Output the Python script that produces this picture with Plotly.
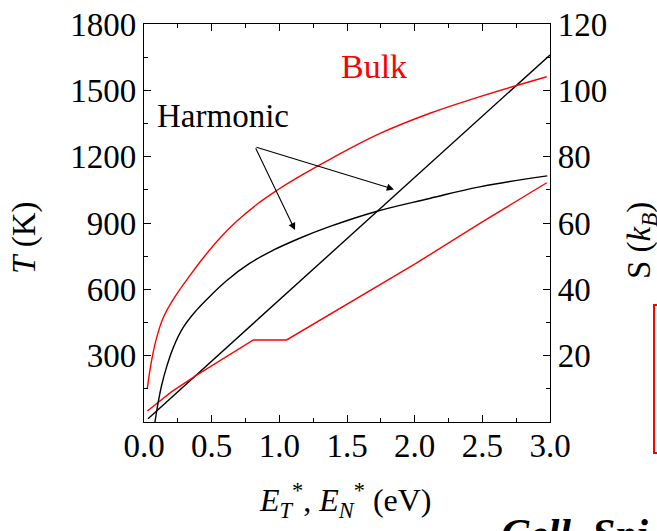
import plotly.graph_objects as go

# ---- data ----
E_harm_T = [0.03, 0.5, 1.0, 1.5, 2.0, 2.5, 3.0]
T_harm = [15, 275, 552, 828, 1105, 1382, 1660]

E_bulk_T = [0.025, 0.2, 0.389, 0.808, 1.054, 1.15, 1.5, 2.0, 2.5, 2.976]
T_bulk = [50, 135, 212, 371, 371, 406, 532, 714, 905, 1082]

E_harm_S = [0.081, 0.10, 0.13, 0.17, 0.22, 0.29, 0.39, 0.46, 0.61, 0.78,
            0.955, 1.15, 1.37, 1.71, 2.11, 2.48, 2.98]
S_harm = [0, 4.8, 11.0, 17.0, 22.8, 28.5, 33.8, 36.8, 42.6, 47.8,
          51.8, 55.4, 58.9, 63.4, 67.4, 70.9, 74.2]

E_bulk_S = [0.025, 0.057, 0.094, 0.143, 0.22, 0.34, 0.44, 0.56, 0.685, 0.83,
            0.98, 1.13, 1.374, 1.744, 2.113, 2.483, 2.976]
S_bulk = [10.2, 18.7, 25.5, 31.5, 37.2, 44.2, 49.6, 55.4, 60.5, 65.5,
          69.8, 73.6, 79.2, 87.0, 93.1, 98.1, 104.1]

x_ticks = [0.0, 0.5, 1.0, 1.5, 2.0, 2.5, 3.0]
x_ticklabels = ["0.0", "0.5", "1.0", "1.5", "2.0", "2.5", "3.0"]
yT_ticks = [300, 600, 900, 1200, 1500, 1800]
yS_ticks = [20, 40, 60, 80, 100, 120]

# arrows: start point and two tips (E, T)
arrow_start = (0.820, 1245)
arrow_tips = [(1.116, 868), (1.847, 1052)]

FONT = "Liberation Serif, Times New Roman, serif"
BLACK = "#000000"
RED = "#ff0000"

fig = go.Figure()
fig.add_trace(go.Scatter(x=E_harm_T, y=T_harm, mode="lines",
                         line=dict(color=BLACK, width=1.4), yaxis="y"))
fig.add_trace(go.Scatter(x=E_bulk_T, y=T_bulk, mode="lines",
                         line=dict(color=RED, width=1.4), yaxis="y"))
fig.add_trace(go.Scatter(x=E_harm_S, y=S_harm, mode="lines",
                         line=dict(color=BLACK, width=1.4, shape="spline", smoothing=1.2),
                         yaxis="y2"))
fig.add_trace(go.Scatter(x=E_bulk_S, y=S_bulk, mode="lines",
                         line=dict(color=RED, width=1.4, shape="spline", smoothing=1.2),
                         yaxis="y2"))

tickfont = dict(family=FONT, size=33, color=BLACK)

fig.update_layout(
    width=657, height=531,
    margin=dict(l=144, r=107, t=24, b=109, pad=0, autoexpand=False),
    paper_bgcolor="white", plot_bgcolor="white",
    showlegend=False,
    font=dict(family=FONT, color=BLACK),
    xaxis=dict(range=[0, 3], tickvals=x_ticks, ticktext=x_ticklabels,
               ticks="inside", ticklen=7, tickwidth=1.2, tickcolor=BLACK,
               showline=True, linecolor=BLACK, linewidth=1.3, mirror="ticks",
               showgrid=False, zeroline=False, tickfont=tickfont,
               ticklabelstandoff=-6, automargin=False,
               minor=dict(ticks="inside", ticklen=4, tickwidth=1.2, dtick=0.25,
                          tick0=0, tickcolor=BLACK, showgrid=False)),
    yaxis=dict(range=[0, 1800], tickvals=yT_ticks,
               ticks="inside", ticklen=7, tickwidth=1.2, tickcolor=BLACK,
               showline=True, linecolor=BLACK, linewidth=1.3,
               showgrid=False, zeroline=False, tickfont=tickfont, automargin=False,
               minor=dict(ticks="inside", ticklen=4, tickwidth=1.2, dtick=150,
                          tick0=0, tickcolor=BLACK, showgrid=False)),
    yaxis2=dict(range=[0, 120], tickvals=yS_ticks, overlaying="y", side="right",
                ticks="inside", ticklen=7, tickwidth=1.2, tickcolor=BLACK,
                showline=True, linecolor=BLACK, linewidth=1.3,
                showgrid=False, zeroline=False, tickfont=tickfont, automargin=False,
                minor=dict(ticks="inside", ticklen=4, tickwidth=1.2, dtick=10,
                           tick0=0, tickcolor=BLACK, showgrid=False)),
)

ann = []
ann.append(dict(text="Harmonic", x=0.1958, y=0.769, xref="paper", yref="paper",
                showarrow=False, xanchor="center", yanchor="middle",
                font=dict(family=FONT, size=33, color=BLACK)))
ann.append(dict(text="Bulk", x=0.5665, y=0.892, xref="paper", yref="paper",
                showarrow=False, xanchor="center", yanchor="middle",
                font=dict(family=FONT, size=34, color=RED)))
ann.append(dict(text="<i>E</i><sub><i>T</i></sub><sup>*</sup>, <i>E</i><sub><i>N</i></sub><sup>*</sup> (eV)",
                x=0.4975, y=-0.198, xref="paper", yref="paper",
                showarrow=False, xanchor="center", yanchor="middle",
                font=dict(family=FONT, size=32, color=BLACK)))
ann.append(dict(text="<i>T</i> (K)", x=-0.296, y=0.462, xref="paper", yref="paper",
                showarrow=False, xanchor="center", yanchor="middle", textangle=-90,
                font=dict(family=FONT, size=33, color=BLACK)))
ann.append(dict(text="S (<i>k</i><sub><i>B</i></sub>)", x=1.224, y=0.457, xref="paper", yref="paper",
                showarrow=False, xanchor="center", yanchor="middle", textangle=-90,
                font=dict(family=FONT, size=33, color=BLACK)))
ann.append(dict(text="<b><i>Cell. Spi</i></b>", x=0.874, y=-0.218, xref="paper", yref="paper",
                showarrow=False, xanchor="left", yanchor="top",
                font=dict(family=FONT, size=42, color=BLACK)))
for tip in arrow_tips:
    ann.append(dict(text="", x=tip[0], y=tip[1], xref="x", yref="y",
                    ax=arrow_start[0], ay=arrow_start[1], axref="x", ayref="y",
                    showarrow=True, arrowhead=2, arrowsize=1.3, arrowwidth=1.1,
                    arrowcolor=BLACK, standoff=0, startstandoff=0))
fig.update_layout(annotations=ann)

fig.add_shape(type="rect", xref="paper", yref="paper",
              x0=1.2562, x1=1.40, y0=-0.0779, y1=0.294,
              line=dict(color=RED, width=2), fillcolor="rgba(0,0,0,0)")

fig.write_html("out.html", config={"displayModeBar": False},
               post_script="document.body.style.margin='0';document.body.style.padding='0';")
